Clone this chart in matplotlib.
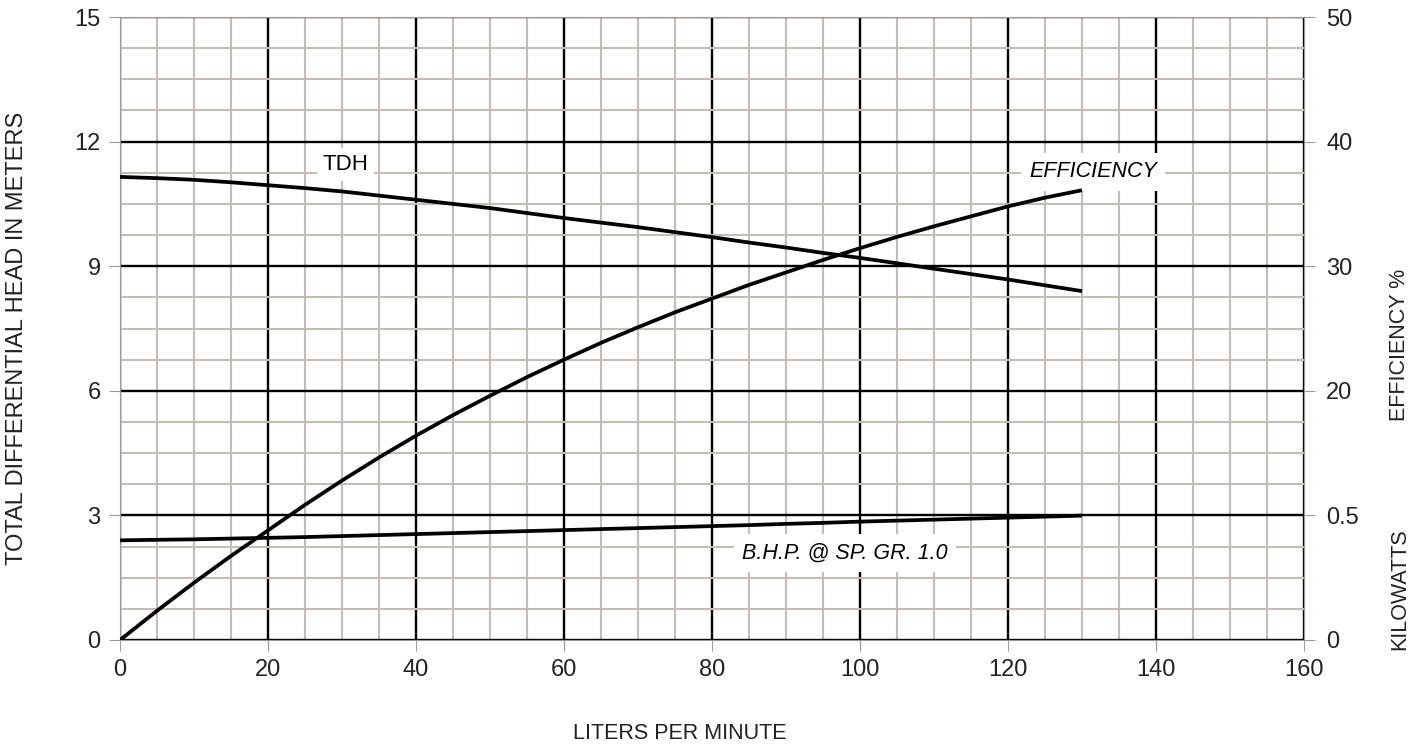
import matplotlib.pyplot as plt
from matplotlib.ticker import MultipleLocator

plt.rcParams['font.family'] = ['Liberation Sans', 'DejaVu Sans']

# pump curve data
flow = [0, 5, 10, 15, 20, 25, 30, 35, 40, 45, 50, 55, 60, 65,
        70, 75, 80, 85, 90, 95, 100, 105, 110, 115, 120, 125, 130]
tdh = [11.15, 11.12, 11.08, 11.02, 10.95, 10.88, 10.8, 10.7, 10.6, 10.5, 10.4, 10.28, 10.16, 10.05,
       9.94, 9.82, 9.7, 9.57, 9.45, 9.32, 9.2, 9.07, 8.94, 8.81, 8.68, 8.54, 8.4]
efficiency = [0, 2.35, 4.6, 6.75, 8.8, 10.85, 12.8, 14.65, 16.4, 18.05, 19.6, 21.1, 22.5, 23.85,
              25.1, 26.3, 27.4, 28.5, 29.5, 30.5, 31.45, 32.35, 33.2, 34.0, 34.8, 35.5, 36.1]
kilowatts = [0.400, 0.402, 0.404, 0.407, 0.410, 0.413, 0.417, 0.421, 0.425, 0.429, 0.433, 0.437, 0.441, 0.445,
             0.449, 0.453, 0.457, 0.461, 0.466, 0.470, 0.475, 0.479, 0.483, 0.487, 0.491, 0.495, 0.499]

x_ticks = [0, 20, 40, 60, 80, 100, 120, 140, 160]
head_ticks = [0, 3, 6, 9, 12, 15]
eff_ticks = [20, 30, 40, 50]
kw_ticks = [0, 0.5]

MINOR = '#c6bcb7'
TICK_FS = 17
TEXT_FS = 15.5

fig = plt.figure(figsize=(14.26, 7.46), dpi=100)
ax = fig.add_axes([0.0842, 0.1421, 0.8302, 0.8351])
ax.set_xlim(0, 160)
ax.set_ylim(0, 15)
ax.set_xticks(x_ticks)
ax.set_yticks(head_ticks)
ax.xaxis.set_minor_locator(MultipleLocator(5))
ax.yaxis.set_minor_locator(MultipleLocator(0.75))
ax.grid(which='minor', color=MINOR, lw=1.5)
ax.grid(which='major', color='black', lw=1.7)
ax.set_axisbelow(True)
ax.tick_params(which='major', labelsize=TICK_FS, labelcolor='#222222', length=8, color='#999999', pad=6)
ax.tick_params(which='minor', length=0)
for s in ax.spines.values():
    s.set_color('#a09895')

ax.plot(flow, tdh, color='black', lw=2.7, solid_capstyle='butt', zorder=3)

ax_eff = ax.twinx()
ax_eff.set_ylim(0, 50)
ax_eff.set_yticks(eff_ticks)
ax_eff.tick_params(labelsize=TICK_FS, labelcolor='#222222', length=8, color='#999999', pad=8)
ax_eff.plot(flow, efficiency, color='black', lw=2.7, solid_capstyle='butt', zorder=3)

ax_kw = ax.twinx()
ax_kw.set_ylim(0, 2.5)
ax_kw.set_yticks(kw_ticks)
ax_kw.set_yticklabels(['0', '0.5'])
ax_kw.tick_params(labelsize=TICK_FS, labelcolor='#222222', length=8, color='#999999', pad=8)
ax_kw.plot(flow, kilowatts, color='black', lw=2.7, solid_capstyle='butt', zorder=3)
for a in (ax_eff, ax_kw):
    for s in a.spines.values():
        s.set_visible(False)

ax.text(30.5, 11.45, 'TDH', fontsize=16, ha='center', va='center',
        bbox=dict(facecolor='white', edgecolor='none', pad=4), zorder=4)
ax.text(131.5, 11.27, 'EFFICIENCY', fontsize=TEXT_FS, style='italic', ha='center', va='center',
        bbox=dict(facecolor='white', edgecolor='none', pad=6), zorder=4)
ax.text(98, 2.09, 'B.H.P. @ SP. GR. 1.0', fontsize=TEXT_FS, style='italic', ha='center', va='center',
        bbox=dict(facecolor='white', edgecolor='none', pad=6), zorder=4)

fig.text(0.012, 0.547, 'TOTAL DIFFERENTIAL HEAD IN METERS', rotation=90, fontsize=17,
         ha='center', va='center', color='#222222')
fig.text(0.477, 0.017, 'LITERS PER MINUTE', fontsize=TEXT_FS, ha='center', va='center', color='#222222')
fig.text(0.9815, 0.537, 'EFFICIENCY %', rotation=90, fontsize=TEXT_FS, ha='center', va='center',
         color='#222222')
fig.text(0.9815, 0.21, 'KILOWATTS', rotation=90, fontsize=TEXT_FS, ha='center', va='center',
         color='#222222')

fig.savefig('out.png', dpi=100)
